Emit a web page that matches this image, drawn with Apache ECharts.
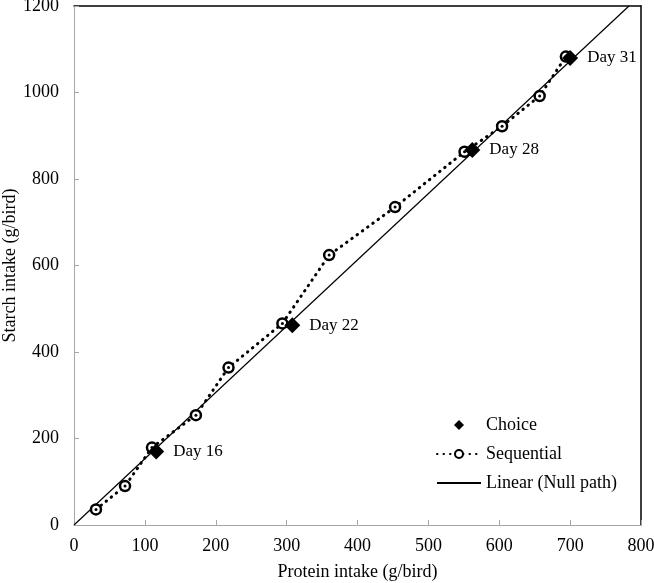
<!DOCTYPE html>
<html>
<head>
<meta charset="utf-8">
<title>Protein vs starch intake</title>
<script src="https://cdn.jsdelivr.net/npm/echarts@6/dist/echarts.min.js"></script>
<style>
  html, body { margin: 0; padding: 0; background: #fff; }
  #chart { width: 654px; height: 583px; }
</style>
</head>
<body>
<div id="chart"></div>
<script>
// Choice feeding: one point per day
var choiceDays = ['Day 16', 'Day 22', 'Day 28', 'Day 31']
var choiceProtein = [116, 308, 562, 700]
var choiceStarch = [170, 462, 867, 1080]

// Sequential feeding path
var seqProtein = [31, 72, 110, 172, 218, 294, 360, 453, 551, 604, 657, 694]
var seqStarch = [36, 90, 179, 254, 364, 466, 624, 735, 863, 922, 992, 1083]

// Null path (linear), end points
var nullProtein = [0, 783]
var nullStarch = [0, 1200]

var xTicks = [0, 100, 200, 300, 400, 500, 600, 700, 800]
var yTicks = [0, 200, 400, 600, 800, 1000, 1200]

function pairs(xs, ys) {
  return xs.map(function (x, i) { return [x, ys[i]] })
}

var FONT = "'Liberation Serif', 'Times New Roman', serif"
var GREY = '#a6a6a6'
// small diamond centred in a 44x10 legend box
var LEGEND_DIAMOND = 'path://M0,0 M44,10 M22,0 L27,5 L22,10 L17,5 Z'

var chart = echarts.init(document.getElementById('chart'))

chart.setOption({
  animation: false,
  textStyle: { fontFamily: FONT, color: '#000' },
  grid: { left: 74, right: 13, top: 6, bottom: 58, outerBoundsMode: 'none', containLabel: false },
  legend: {
    orient: 'vertical',
    left: 431,
    top: 411,
    itemWidth: 44,
    itemHeight: 10,
    itemGap: 11,
    textStyle: { fontFamily: FONT, fontSize: 18, color: '#000' },
    data: [
      { name: 'Choice', icon: LEGEND_DIAMOND },
      'Sequential',
      'Linear (Null path)'
    ]
  },
  xAxis: [{
    type: 'value',
    min: xTicks[0],
    max: xTicks[xTicks.length - 1],
    interval: 100,
    name: 'Protein intake (g/bird)',
    nameLocation: 'middle',
    nameGap: 38,
    nameMoveOverlap: false,
    nameTextStyle: { fontFamily: FONT, fontSize: 18, color: '#000' },
    axisLine: { onZero: false, lineStyle: { color: GREY, width: 1 } },
    axisTick: { inside: true, length: 5, lineStyle: { color: GREY } },
    axisLabel: { fontFamily: FONT, fontSize: 18, color: '#000', margin: 12, formatter: String },
    splitLine: { show: false }
  }, {
    // top frame line
    type: 'value',
    position: 'top',
    min: xTicks[0],
    max: xTicks[xTicks.length - 1],
    axisLine: { show: true, onZero: false, lineStyle: { color: '#000', width: 1.5 } },
    axisTick: { show: false },
    axisLabel: { show: false },
    splitLine: { show: false }
  }],
  yAxis: [{
    type: 'value',
    min: yTicks[0],
    max: yTicks[yTicks.length - 1],
    interval: 200,
    name: 'Starch intake (g/bird)',
    nameLocation: 'middle',
    nameGap: 55,
    nameMoveOverlap: false,
    nameTextStyle: { fontFamily: FONT, fontSize: 18, color: '#000' },
    axisLine: { show: true, onZero: false, lineStyle: { color: GREY, width: 1 } },
    axisTick: { show: true, inside: true, length: 5, lineStyle: { color: GREY } },
    axisLabel: { fontFamily: FONT, fontSize: 18, color: '#000', margin: 15, formatter: String },
    splitLine: { show: false }
  }, {
    // right frame line
    type: 'value',
    position: 'right',
    min: yTicks[0],
    max: yTicks[yTicks.length - 1],
    axisLine: { show: true, onZero: false, lineStyle: { color: '#000', width: 1.5 } },
    axisTick: { show: false },
    axisLabel: { show: false },
    splitLine: { show: false }
  }],
  series: [{
    name: 'Linear (Null path)',
    type: 'line',
    data: pairs(nullProtein, nullStarch),
    symbol: 'none',
    itemStyle: { color: '#000', opacity: 0 },
    lineStyle: { color: '#000', width: 1.2 },
    z: 2
  },
  {
    name: 'Sequential',
    type: 'line',
    data: pairs(seqProtein, seqStarch),
    symbol: 'circle',
    symbolSize: 10,
    itemStyle: { color: '#fff', borderColor: '#000', borderWidth: 2.5 },
    lineStyle: { color: '#000', width: 3, type: [0.5, 6], cap: 'round' },
    z: 3
  },
  {
    // little centre dots inside the sequential rings
    name: 'seqDots',
    type: 'scatter',
    data: pairs(seqProtein, seqStarch),
    symbol: 'circle',
    symbolSize: 3,
    itemStyle: { color: '#000', opacity: 1 },
    silent: true,
    z: 4
  },
  {
    name: 'Choice',
    type: 'scatter',
    data: pairs(choiceProtein, choiceStarch),
    symbol: 'diamond',
    symbolSize: 16,
    itemStyle: { color: '#000', opacity: 1 },
    label: {
      show: true,
      position: 'right',
      distance: 9,
      fontFamily: FONT,
      fontSize: 17,
      color: '#000',
      formatter: function (p) { return choiceDays[p.dataIndex] }
    },
    z: 5
  }]
})
</script>
</body>
</html>
